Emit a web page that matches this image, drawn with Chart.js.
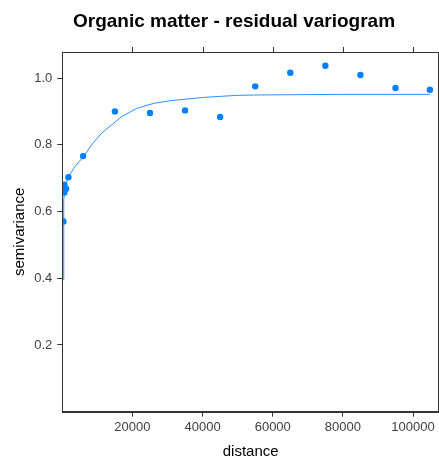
<!DOCTYPE html>
<html>
<head>
<meta charset="utf-8">
<script src="https://cdn.jsdelivr.net/npm/chart.js@4"></script>
<style>
  html, body { margin: 0; padding: 0; background: #ffffff; }
  canvas { display: block; }
</style>
</head>
<body>
<canvas id="c" width="439" height="465"></canvas>
<script>
// ---- data ----
const chartTitle = "Organic matter - residual variogram";
const xLabel = "distance";
const yLabel = "semivariance";

// empirical variogram points
const distance   = [310, 600, 1080, 600, 1740, 5930, 15000, 25000, 35000, 45000, 55000, 65000, 75000, 85000, 95000, 104800];
const gamma      = [0.570, 0.680, 0.668, 0.657, 0.703, 0.766, 0.900, 0.895, 0.903, 0.883, 0.975, 1.016, 1.037, 1.009, 0.970, 0.965];

// fitted model line
const curveDist  = [330, 350, 480, 710, 1650, 3570, 6130, 8300, 11150, 14000, 16860, 21250, 26000, 30750, 35500, 40250, 45000, 49800, 54500, 65000, 80000, 104800];
const curveGamma = [0.395, 0.550, 0.635, 0.670, 0.703, 0.734, 0.766, 0.799, 0.834, 0.859, 0.884, 0.909, 0.924, 0.932, 0.937, 0.942, 0.945, 0.948, 0.949, 0.950, 0.951, 0.951];

// tick values
const xTicks = [20000, 40000, 60000, 80000, 100000];
const yTicks = [0.2, 0.4, 0.6, 0.8, 1.0];

const FONT = "'Liberation Sans', Arial, Helvetica, sans-serif";
const frameColor = '#333333';

const framePlugin = {
  id: 'frame',
  afterDraw(chart) {
    const {ctx, chartArea: a, scales} = chart;
    ctx.save();
    ctx.strokeStyle = frameColor;
    ctx.lineWidth = 1;
    ctx.strokeRect(Math.round(a.left) + 0.5, Math.round(a.top) + 0.5,
                   Math.round(a.right) - Math.round(a.left) - 1, Math.round(a.bottom) - Math.round(a.top));
    // top ticks
    ctx.beginPath();
    xTicks.forEach(v => {
      const px = Math.round(scales.x.getPixelForValue(v)) + 0.5;
      ctx.moveTo(px, Math.round(a.top));
      ctx.lineTo(px, Math.round(a.top) - 5);
    });
    ctx.stroke();
    // title
    ctx.fillStyle = '#000000';
    ctx.font = "bold 19px " + FONT;
    ctx.textAlign = 'center';
    ctx.textBaseline = 'alphabetic';
    ctx.fillText(chartTitle, 234, 27);
    ctx.restore();
  }
};

new Chart(document.getElementById('c'), {
  type: 'scatter',
  data: {
    datasets: [
      {
        label: 'sample',
        data: distance.map((d, i) => ({x: d, y: gamma[i]})),
        backgroundColor: '#0080ff',
        borderColor: '#0080ff',
        borderWidth: 0,
        pointRadius: 3.2,
        showLine: false,
        order: 0
      },
      {
        label: 'model',
        data: curveDist.map((d, i) => ({x: d, y: curveGamma[i]})),
        borderColor: '#2b8fff',
        borderWidth: 1,
        pointRadius: 0,
        showLine: true,
        fill: false,
        tension: 0,
        order: 1
      }
    ]
  },
  options: {
    responsive: false,
    devicePixelRatio: 1,
    animation: false,
    layout: { autoPadding: false, padding: { top: 52, right: 0, bottom: 0, left: 0 } },
    plugins: {
      legend: { display: false },
      tooltip: { enabled: false },
      title: { display: false }
    },
    scales: {
      x: {
        type: 'linear',
        min: 0,
        max: 107400,
        afterBuildTicks: s => { s.ticks = xTicks.map(v => ({value: v})); },
        afterFit: s => { s.height = 53.3; s.paddingLeft = 0; s.paddingRight = 0; },
        grid: { drawOnChartArea: false, drawTicks: true, tickLength: 5, color: frameColor },
        border: { display: true, color: frameColor },
        ticks: {
          color: '#404040',
          font: { family: FONT, size: 13 },
          padding: 3,
          maxRotation: 0,
          callback: v => String(v)
        },
        title: {
          display: true,
          text: xLabel,
          color: '#000000',
          font: { family: FONT, size: 15 },
          padding: { top: 0, bottom: 4 }
        }
      },
      y: {
        type: 'linear',
        min: 0,
        max: 1.078,
        afterBuildTicks: s => { s.ticks = yTicks.map(v => ({value: v})); },
        afterFit: s => { s.width = 62.3; s.paddingTop = 0; s.paddingBottom = 0; },
        grid: { drawOnChartArea: false, drawTicks: true, tickLength: 5, color: frameColor },
        border: { display: true, color: frameColor },
        ticks: {
          color: '#404040',
          font: { family: FONT, size: 13 },
          padding: 5,
          callback: v => v.toFixed(1)
        },
        title: {
          display: true,
          text: yLabel,
          color: '#000000',
          font: { family: FONT, size: 15 },
          padding: { top: 11, bottom: 0 }
        }
      }
    }
  },
  plugins: [framePlugin]
});
</script>
</body>
</html>
